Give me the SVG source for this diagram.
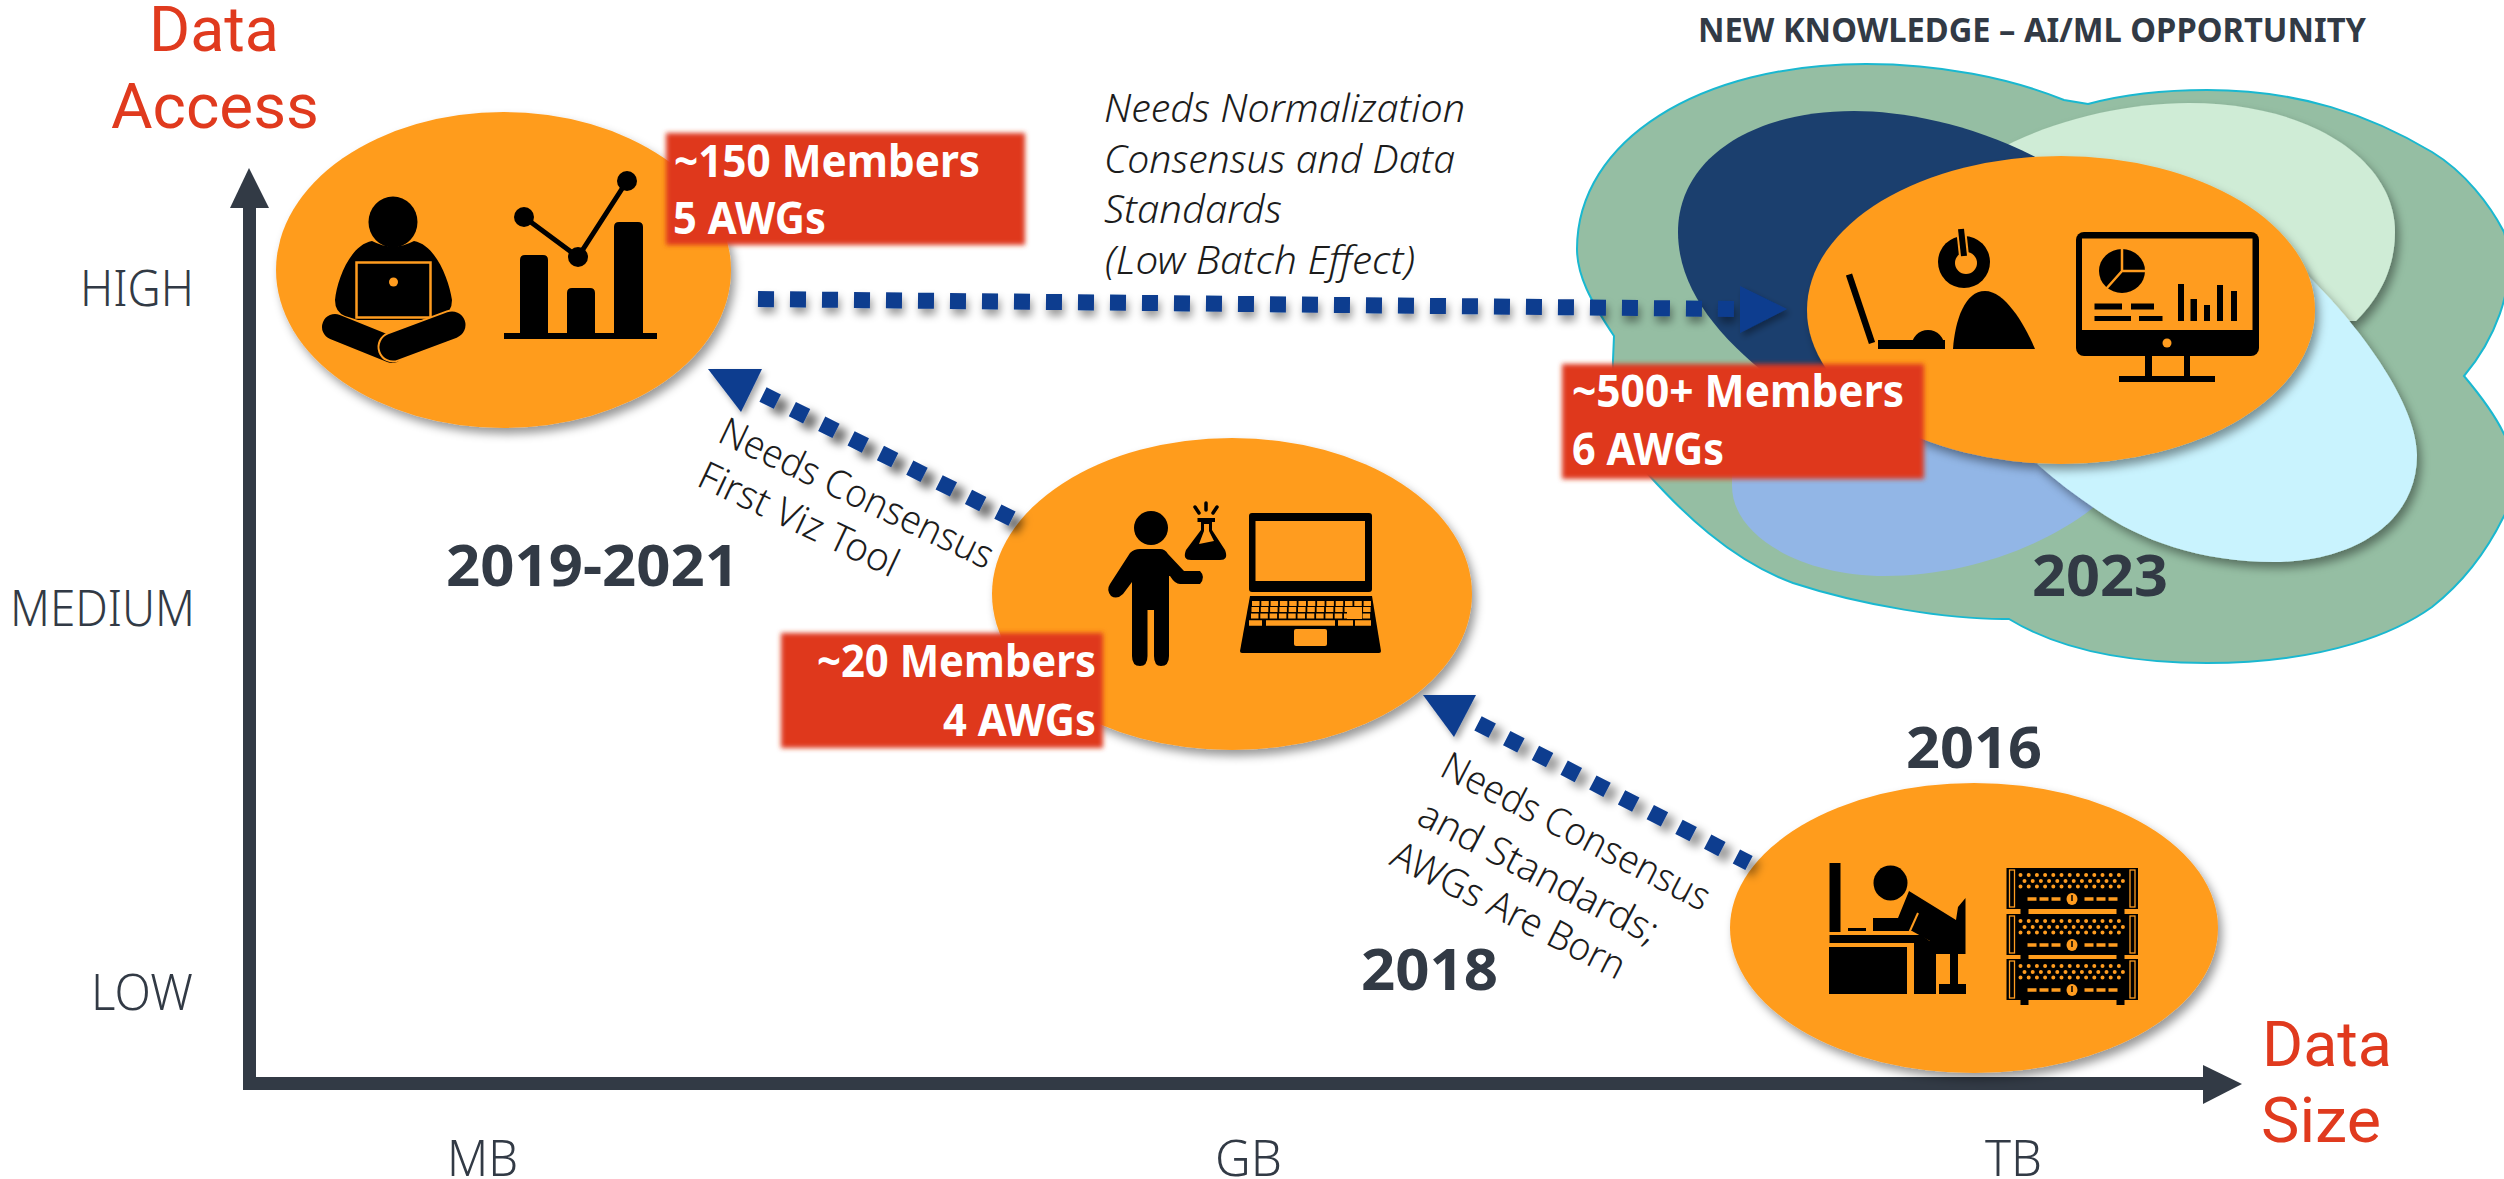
<svg xmlns="http://www.w3.org/2000/svg" width="2504" height="1179" viewBox="0 0 2504 1179">
<style>
text{font-family:"Noto Sans","Liberation Sans",sans-serif}
.axisname{font-family:Roboto,"Liberation Sans",sans-serif;font-size:63px;fill:#E03A1E}
.tick{font-size:49px;font-weight:350;fill:#323A45}
.year{font-size:57px;font-weight:700;fill:#323A45}
.count{font-size:45px;font-weight:700;fill:#fff}
.note{font-size:39px;font-weight:350;fill:#1c1c1c}
.bubble{fill:#FF9C1F;filter:url(#shadow)}
.red{fill:#DF381C;filter:url(#soft)}
.dash{fill:none;stroke:#0B3C8F;stroke-width:16}
.head{fill:#0B3C8F;filter:url(#headshadow)}
.ax{fill:#323A45}
.k{fill:#000}
.o{fill:#FF9C1F}
</style>
<defs>
<filter id="shadow" x="-10%" y="-10%" width="125%" height="125%"><feDropShadow dx="4" dy="6" stdDeviation="5" flood-color="#000" flood-opacity="0.4"/></filter>
<filter id="soft" x="-5%" y="-10%" width="110%" height="120%"><feGaussianBlur stdDeviation="2.500"/></filter>
<filter id="flatshadow" x="-5%" y="-400%" width="110%" height="900%"><feDropShadow dx="2" dy="6" stdDeviation="4" flood-color="#000" flood-opacity="0.4"/></filter>
<filter id="diagshadow" x="-10%" y="-20%" width="125%" height="140%"><feDropShadow dx="9" dy="8" stdDeviation="4.500" flood-color="#000" flood-opacity="0.55"/></filter>
<filter id="diagshadow2" x="-10%" y="-20%" width="125%" height="140%"><feDropShadow dx="8" dy="7" stdDeviation="4.500" flood-color="#000" flood-opacity="0.38"/></filter>
<filter id="headshadow" x="-20%" y="-20%" width="150%" height="150%"><feDropShadow dx="3" dy="4" stdDeviation="3" flood-color="#000" flood-opacity="0.35"/></filter>
<g id="rack">
<rect width="131.5" height="41" fill="#000"/>
<rect x="3" y="2" width="5" height="37" fill="none" stroke="#FF9C1F" stroke-width="1.3"/>
<rect x="123.5" y="2" width="5" height="37" fill="none" stroke="#FF9C1F" stroke-width="1.3"/>
<g stroke="#FF9C1F" stroke-width="4" stroke-linecap="round" stroke-dasharray="0 8.2" fill="none">
<path d="M14,7H120"/><path d="M18,13H118"/><path d="M14,18.500H120"/></g>
<path d="M21,31H54M78,31H111" stroke="#FF9C1F" stroke-width="3.500" stroke-dasharray="9 3" fill="none"/>
<ellipse cx="65.500" cy="31" rx="5.500" ry="6" fill="#FF9C1F"/>
<path d="M65.500,27V33" stroke="#000" stroke-width="1.500"/>
<path d="M14,41h8v5h-8zM110,41h8v5h-8z" fill="#000"/>
</g>
</defs>

<g id="y-axis">
<rect class="ax" x="243" y="205" width="13" height="884"/>
<polygon class="ax" points="249,168 269,208 230,208"/>
<text class="axisname" x="149" y="51" textLength="130" lengthAdjust="spacingAndGlyphs">Data</text>
<text class="axisname" x="111" y="128" textLength="208" lengthAdjust="spacingAndGlyphs">Access</text>
<text class="tick" x="80" y="306" textLength="114" lengthAdjust="spacingAndGlyphs">HIGH</text>
<text class="tick" x="10" y="626" textLength="185" lengthAdjust="spacingAndGlyphs">MEDIUM</text>
<text class="tick" x="91" y="1010" textLength="102" lengthAdjust="spacingAndGlyphs">LOW</text>
</g>
<g id="x-axis">
<rect class="ax" x="243" y="1077" width="1963" height="13"/>
<polygon class="ax" points="2203,1065 2242,1084 2203,1104"/>
<text class="axisname" x="2262" y="1066" textLength="130" lengthAdjust="spacingAndGlyphs">Data</text>
<text class="axisname" x="2261" y="1142" textLength="120" lengthAdjust="spacingAndGlyphs">Size</text>
<text class="tick" x="447" y="1176" textLength="71" lengthAdjust="spacingAndGlyphs">MB</text>
<text class="tick" x="1215" y="1176" textLength="67" lengthAdjust="spacingAndGlyphs">GB</text>
<text class="tick" x="1985" y="1176" textLength="57" lengthAdjust="spacingAndGlyphs">TB</text>
</g>

<g id="node-2023">
<text x="1698" y="42" font-size="34" font-weight="700" fill="#323A45" textLength="668" lengthAdjust="spacingAndGlyphs">NEW KNOWLEDGE – AI/ML OPPORTUNITY</text>
<path fill="#95BEA3" stroke="#1AB8D0" stroke-width="2" d="M2064,100 L2088,104 C2125,94 2165,90 2207,90 C2300,90 2370,115 2432,152 C2465,172 2490,205 2504,232 C2520,290 2490,345 2464,376 C2480,395 2495,415 2504,434 C2525,470 2520,490 2504,516 C2485,555 2460,585 2432,607 C2400,630 2330,663 2207,663 C2130,663 2060,650 2009,619 C1950,620 1860,605 1793,583 C1730,560 1680,510 1647,473 C1625,440 1612,400 1613,360 L1614,336 C1590,300 1577,275 1577,249 C1577,140 1700,64 1866,64 C1940,64 2010,78 2064,100 Z"/>
<path fill="#CFECD6" filter="url(#shadow)" d="M2005,146 C2060,118 2130,103 2189,103 C2310,103 2395,160 2395,232 C2395,265 2382,295 2356,321 L2200,321 Z"/>
<path fill="#1B3F6E" d="M2050,165 C1980,125 1905,111 1854,111 C1750,111 1678,160 1678,232 C1678,290 1720,340 1780,385 L2060,300 Z"/>
<path fill="#92B6E6" d="M2094,507 C2040,550 1960,576 1885,576 C1800,576 1732,535 1732,486 L1732,450 L2000,430 Z"/>
<path fill="#C9F3FE" filter="url(#shadow)" d="M2280,250 C2350,310 2417,400 2417,455 C2417,525 2350,562 2274,562 C2200,562 2140,540 2097,510 C2075,495 2055,480 2037,464 Z"/>
<ellipse class="bubble" cx="2061" cy="310" rx="254" ry="154"/>
<g id="icon-analyst">
<path d="M1849,274.500L1872,343" stroke="#000" stroke-width="6.500"/>
<rect class="k" x="1878" y="340" width="67" height="9"/>
<path class="k" d="M1911,349 C1911,337 1919,330 1928,330 C1937,330 1945,337 1945,349Z"/>
<ellipse class="k" cx="1964" cy="262" rx="26" ry="26"/>
<ellipse class="o" cx="1966" cy="263" rx="11" ry="11"/>
<path d="M1961,228L1964,256" stroke="#FF9C1F" stroke-width="10"/>
<path d="M1961,229L1964,256" stroke="#000" stroke-width="6"/>
<path class="k" d="M1953,349 C1955,320 1965,291 1985,291 C2005,291 2025,325 2035,349Z"/>
</g>
<g id="icon-dashboard">
<rect class="k" x="2076" y="232" width="183" height="124" rx="8"/>
<rect class="o" x="2082" y="238.500" width="170.500" height="91.500"/>
<ellipse class="o" cx="2167" cy="343" rx="4.500" ry="4.500"/>
<path class="k" d="M2145,356h7v20h32v-20h6v20h25v6h-96v-6h26z"/>
<ellipse class="k" cx="2122" cy="271" rx="23" ry="22"/>
<path d="M2122,249V271H2146M2122,271L2106,289" stroke="#FF9C1F" stroke-width="2.500" fill="none"/>
<path class="k" d="M2178,284h6v37h-6zM2190.500,299h6.500v22h-6.500zM2204,305h6v16h-6zM2217,285h6v36h-6zM2231,291h6v30h-6zM2094.500,303.500h27.500v6h-27.500zM2131,303.500h23v6h-23zM2094.500,316h36.500v5h-36.500zM2139,316h23.500v5h-23.500z"/>
</g>
</g>

<g id="node-2019">
<ellipse class="bubble" cx="503.500" cy="270" rx="227.500" ry="158"/>
<g id="icon-laptop-person">
<ellipse class="k" cx="393" cy="222" rx="24.500" ry="25.500"/>
<path class="k" d="M372,241 C350,245 337,280 335,300 Q335,312 345,316 L358,320 L428,320 L442,316 Q452,312 452,300 C449,280 436,245 414,241 Q393,252 372,241Z"/>
<rect class="k" x="356.500" y="262.500" width="74" height="55" stroke="#FF9C1F" stroke-width="2.500"/>
<ellipse class="o" cx="393.500" cy="282" rx="4.500" ry="4.500"/>
<path d="M335,327L392,350" stroke="#000" stroke-width="26" stroke-linecap="round"/>
<path d="M393,347L452,325" stroke="#FF9C1F" stroke-width="31" stroke-linecap="round"/>
<path d="M393,347L452,325" stroke="#000" stroke-width="27" stroke-linecap="round"/>
</g>
<g id="icon-chart">
<rect class="k" x="504" y="333" width="153" height="6"/>
<path class="k" d="M520,333V260q0,-5 5,-5h18q5,0 5,5V333zM567,333V293q0,-5 5,-5h18q5,0 5,5V333zM614,333V227q0,-5 5,-5h19q5,0 5,5V333z"/>
<path d="M524,217L578,257L627,181" stroke="#000" stroke-width="5" fill="none"/>
<circle class="k" cx="524" cy="217" r="10"/><circle class="k" cx="578" cy="257" r="10"/><circle class="k" cx="627" cy="181" r="10"/>
</g>
</g>

<g id="node-2018">
<ellipse class="bubble" cx="1232" cy="594" rx="240" ry="156"/>
<g id="icon-scientist">
<ellipse class="k" cx="1151" cy="528" rx="17" ry="17"/>
<path class="k" d="M1140,549H1160Q1165,549 1168,554L1184,571H1200Q1206,577 1200,584H1180Q1175,584 1170,576L1169,576V656Q1169,666 1161,666Q1154,666 1154,656V610H1147.500V656Q1147.500,666 1140,666Q1132,666 1132,656V582L1123,594Q1117,600 1111,596Q1106,590 1110,584L1130,553Q1134,549 1140,549Z"/>
<path class="k" d="M1197.500,518H1215V522H1212V530L1225,550Q1229,560 1220,560H1191Q1182,560 1186,550L1201,530V522H1197.500Z"/>
<path class="o" d="M1204,524H1209V531L1214,541L1199,544L1204,531Z"/>
<path d="M1195,507L1199,513M1206,503V510M1217,507L1213,513" stroke="#000" stroke-width="3.500" stroke-linecap="round"/>
</g>
<g id="icon-big-laptop">
<rect class="k" x="1249" y="513" width="123" height="79" rx="3"/>
<rect class="o" x="1255.500" y="521" width="109.500" height="60"/>
<path class="k" d="M1250,596H1372L1381,651Q1381,653 1379,653H1242Q1240,653 1240,651Z"/>
<g stroke="#FF9C1F" fill="none" stroke-width="5" stroke-dasharray="7.500 1.800">
<path d="M1252,603.500H1371"/><path d="M1251.500,609.500H1371"/><path d="M1251,616H1371"/></g>
<path class="o" d="M1347,607h15v12h-15z"/>
<path d="M1249,623H1262M1266,623H1335M1338,623H1353M1355,623H1371" stroke="#FF9C1F" stroke-width="5.500"/>
<rect class="o" x="1294" y="629" width="33" height="17" rx="2"/>
</g>
</g>

<g id="node-2016">
<ellipse class="bubble" cx="1974" cy="928" rx="244" ry="145"/>
<g id="icon-desk-worker" transform="translate(-4,0)">
<path class="k" d="M1833.500,863h11v69h-11zM1852,928h18v3h-18zM1877,918h39v13h-39zM1833.500,935h92l8,6v2h-100zM1833,947h78v47h-78zM1918,942h22v52h-22zM1954,950h8v36h-8zM1943,984h27v10h-27z"/>
<ellipse class="k" cx="1894.500" cy="883" rx="17" ry="17.500"/>
<path class="k" d="M1913,891L1960,920L1962,907L1969.500,898V954H1918V942L1934,941L1916,931V918H1902Z"/>
<path d="M1922,913L1913,933" stroke="#FF9C1F" stroke-width="2"/>
</g>
<g id="icon-servers" transform="translate(-5,0)">
<use href="#rack" x="2011.500" y="868"/>
<use href="#rack" x="2011.500" y="914"/>
<use href="#rack" x="2011.500" y="959"/>
</g>
</g>

<g id="connectors">
<g>
<path class="dash" filter="url(#flatshadow)" d="M758,299L1735,309" stroke-dasharray="16 16"/>
<polygon class="head" points="1740,286 1787,309 1740,333"/>
</g>
<g>
<path class="dash" filter="url(#diagshadow)" d="M763,394.500L1012,518.600" stroke-dasharray="16 16.800"/>
<polygon class="head" points="708,369 762,369 741,412"/>
</g>
<g>
<path class="dash" filter="url(#diagshadow2)" d="M1478,723.300L1749,863" stroke-dasharray="16 16.300"/>
<polygon class="head" points="1423,695 1476,695 1454,737"/>
</g>
</g>

<g id="connector-labels">
<text class="note" font-style="italic" x="1104" y="122" textLength="361" lengthAdjust="spacingAndGlyphs">Needs Normalization</text>
<text class="note" font-style="italic" x="1104" y="173" textLength="351" lengthAdjust="spacingAndGlyphs">Consensus and Data</text>
<text class="note" font-style="italic" x="1104" y="223" textLength="178" lengthAdjust="spacingAndGlyphs">Standards</text>
<text class="note" font-style="italic" x="1105" y="274" textLength="310" lengthAdjust="spacingAndGlyphs">(Low Batch Effect)</text>
<text class="note" transform="translate(716,441) rotate(25.500)" textLength="299" lengthAdjust="spacingAndGlyphs">Needs Consensus</text>
<text class="note" transform="translate(695,485) rotate(25.300)" textLength="217" lengthAdjust="spacingAndGlyphs">First Viz Tool</text>
<text class="note" transform="translate(1438,775) rotate(27.400)" textLength="297" lengthAdjust="spacingAndGlyphs">Needs Consensus</text>
<text class="note" transform="translate(1415,823) rotate(27.500)" textLength="265" lengthAdjust="spacingAndGlyphs">and Standards;</text>
<text class="note" transform="translate(1388,864) rotate(26.900)" textLength="257" lengthAdjust="spacingAndGlyphs">AWGs Are Born</text>
</g>

<g id="label-2019">
<text class="year" x="446" y="586" textLength="293" lengthAdjust="spacingAndGlyphs">2019-2021</text>
<rect class="red" x="666" y="133" width="359" height="112"/>
<text class="count" x="674" y="177" textLength="306" lengthAdjust="spacingAndGlyphs">~150 Members</text>
<text class="count" x="673" y="234" textLength="153" lengthAdjust="spacingAndGlyphs">5 AWGs</text>
</g>
<g id="label-2018">
<text class="year" x="1361" y="990" textLength="137" lengthAdjust="spacingAndGlyphs">2018</text>
<rect class="red" x="781" y="633" width="322" height="115"/>
<text class="count" x="817" y="677" textLength="279" lengthAdjust="spacingAndGlyphs">~20 Members</text>
<text class="count" x="943" y="736" textLength="153" lengthAdjust="spacingAndGlyphs">4 AWGs</text>
</g>
<g id="label-2016">
<text class="year" x="1906" y="768" textLength="136" lengthAdjust="spacingAndGlyphs">2016</text>
</g>
<g id="label-2023">
<text class="year" x="2032" y="596" textLength="136" lengthAdjust="spacingAndGlyphs">2023</text>
<rect class="red" x="1562" y="364" width="362" height="115"/>
<text class="count" x="1572" y="407" textLength="332" lengthAdjust="spacingAndGlyphs">~500+ Members</text>
<text class="count" x="1572" y="465" textLength="152" lengthAdjust="spacingAndGlyphs">6 AWGs</text>
</g>
</svg>
